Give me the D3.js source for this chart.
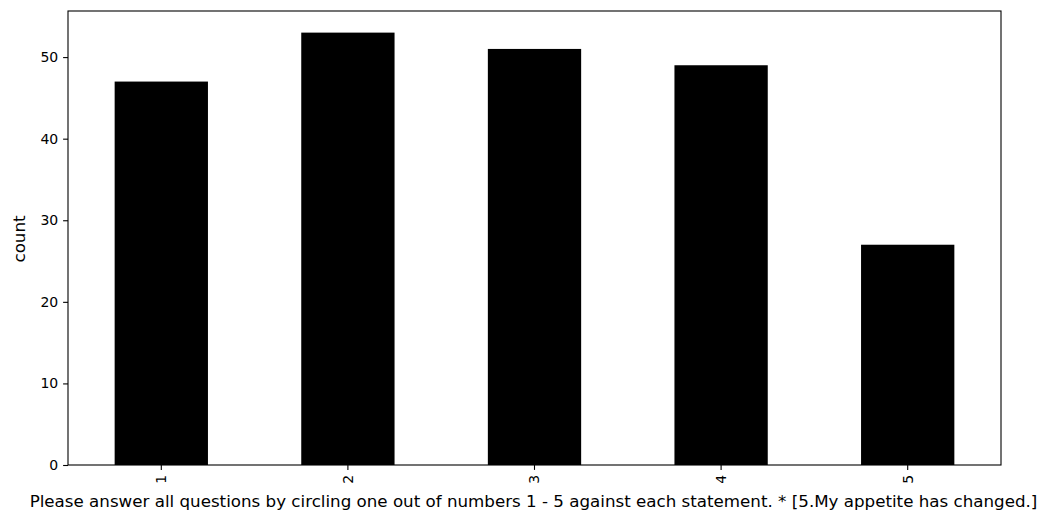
<!DOCTYPE html>
<html>
<head>
<meta charset="utf-8">
<script src="https://cdn.jsdelivr.net/npm/d3@7"></script>
<style>
  html, body { margin: 0; padding: 0; background: #fff; }
  svg { display: block; }
  text { font-family: "DejaVu Sans", sans-serif; fill: #000; }
</style>
</head>
<body>
<svg id="chart" width="1042" height="510"></svg>
<script>
const categories = ["1", "2", "3", "4", "5"];
const counts = [47, 53, 51, 49, 27];
const yTicks = [0, 10, 20, 30, 40, 50];
const xLabel = "Please answer all questions by circling one out of numbers 1 - 5 against each statement. * [5.My appetite has changed.]";
const yLabel = "count";

const W = 1042, H = 510;
const margin = { left: 68, top: 11, right: 1042 - 1001, bottom: 510 - 465 };
const tickFont = 14;
const labelFont = 16.7;

const svg = d3.select("#chart");
const iw = W - margin.left - margin.right;
const ih = H - margin.top - margin.bottom;

const x = d3.scaleBand().domain(categories).range([0, iw]).paddingInner(0.5).paddingOuter(0.25);
const y = d3.scaleLinear().domain([0, d3.max(counts) * 1.05]).range([ih, 0]);

const g = svg.append("g").attr("transform", `translate(${margin.left},${margin.top})`);

g.selectAll("rect.bar")
  .data(categories)
  .enter().append("rect")
  .attr("class", "bar")
  .attr("x", d => x(d))
  .attr("width", x.bandwidth())
  .attr("y", (d, i) => y(counts[i]))
  .attr("height", (d, i) => ih - y(counts[i]))
  .attr("fill", "#000");

// frame
g.append("rect").attr("x", 0).attr("y", 0).attr("width", iw).attr("height", ih)
  .attr("fill", "none").attr("stroke", "#000").attr("stroke-width", 1.1);

const yAxis = g.append("g")
  .call(d3.axisLeft(y).tickValues(yTicks).tickSize(4.9).tickPadding(4.9).tickFormat(d3.format("d")));
yAxis.select(".domain").remove();
yAxis.selectAll("line").attr("stroke", "#000").attr("stroke-width", 1.1);
yAxis.selectAll("text").style("font-size", tickFont + "px").attr("font-family", "DejaVu Sans");

const xAxis = g.append("g").attr("transform", `translate(0,${ih})`)
  .call(d3.axisBottom(x).tickSize(4.9).tickPadding(4.9));
xAxis.select(".domain").remove();
xAxis.selectAll("line").attr("stroke", "#000").attr("stroke-width", 1.1);
xAxis.selectAll("text")
  .style("font-size", tickFont + "px")
  .attr("font-family", "DejaVu Sans")
  .attr("transform", "rotate(-90)")
  .attr("x", -9.8)
  .attr("y", 0)
  .attr("dy", "0.35em")
  .attr("text-anchor", "end");

svg.append("text")
  .attr("x", margin.left + iw / 2 - 1)
  .attr("y", 506.5)
  .attr("text-anchor", "middle")
  .style("font-size", labelFont + "px")
  .text(xLabel);

svg.append("text")
  .attr("transform", `translate(25,${margin.top + ih / 2 + 1}) rotate(-90)`)
  .attr("text-anchor", "middle")
  .style("font-size", labelFont + "px")
  .text(yLabel);
</script>
</body>
</html>
